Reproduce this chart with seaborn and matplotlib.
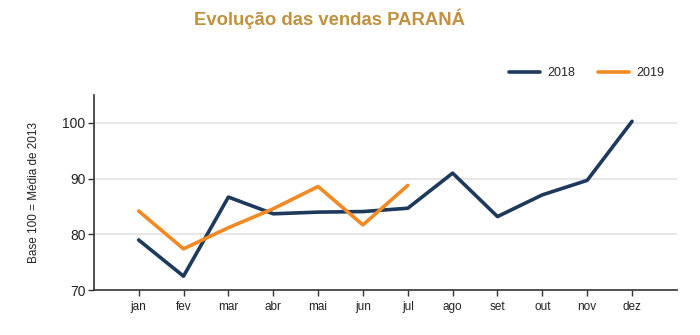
import matplotlib
matplotlib.use("Agg")
import matplotlib.pyplot as plt
import seaborn as sns
import pandas as pd

months = ["jan", "fev", "mar", "abr", "mai", "jun", "jul", "ago", "set", "out", "nov", "dez"]
vendas_2018 = [79.0, 72.5, 86.7, 83.7, 84.0, 84.1, 84.7, 91.0, 83.2, 87.1, 89.7, 100.3]
vendas_2019 = [84.2, 77.4, 81.2, 84.6, 88.6, 81.7, 88.8]
years = ["2018", "2019"]
y_ticks = [70, 80, 90, 100]

rows = []
for m, v in zip(months, vendas_2018):
    rows.append({"mes": m, "valor": v, "ano": years[0]})
for m, v in zip(months, vendas_2019):
    rows.append({"mes": m, "valor": v, "ano": years[1]})
df = pd.DataFrame(rows)
df["x"] = df["mes"].map({m: i for i, m in enumerate(months)})

sns.set_theme(style="white")
plt.rcParams["font.family"] = ["Liberation Sans", "DejaVu Sans"]

fig = plt.figure(figsize=(7, 3.35), dpi=100)
ax = fig.add_axes([0.134, 0.134, 0.833, 0.582])

palette = {"2018": "#1d3a5c", "2019": "#f28a24"}
sns.lineplot(data=df, x="x", y="valor", hue="ano", palette=palette,
             linewidth=2.6, ax=ax, legend=True)

ax.set_xlim(-1, 12)
ax.set_ylim(70, 105)
ax.set_xticks(range(len(months)))
ax.set_xticklabels(months, fontsize=8.5, color="#222222")
ax.set_yticks(y_ticks)
ax.set_yticklabels([str(t) for t in y_ticks], fontsize=10, color="#222222")
ax.set_xlabel("")
ax.set_ylabel("Base 100 = Média de 2013", fontsize=8.5, color="#222222")
ax.yaxis.set_label_coords(-0.092, 0.5)

for t in [80, 90, 100]:
    ax.axhline(t, color="#e3e3e3", linewidth=1.2, zorder=0)

for s in ["top", "right"]:
    ax.spines[s].set_visible(False)
for s in ["left", "bottom"]:
    ax.spines[s].set_color("#333333")
    ax.spines[s].set_linewidth(1.2)
ax.tick_params(axis="both", which="major", direction="out", length=4, width=1,
               color="#333333", bottom=True, left=True)
ax.tick_params(axis="x", pad=4)
ax.tick_params(axis="y", pad=2)

handles, labels = ax.get_legend_handles_labels()
ax.legend(handles, labels, loc="center", bbox_to_anchor=(0.845, 1.113), ncol=2,
          frameon=False, fontsize=9, handlelength=2.5, handletextpad=0.6,
          columnspacing=1.8)

fig.text(0.47, 0.945, "Evolução das vendas PARANÁ", ha="center", va="center",
         fontsize=13.3, fontweight="bold", color="#c0913f")

fig.savefig("out.png", dpi=100, facecolor="white")
